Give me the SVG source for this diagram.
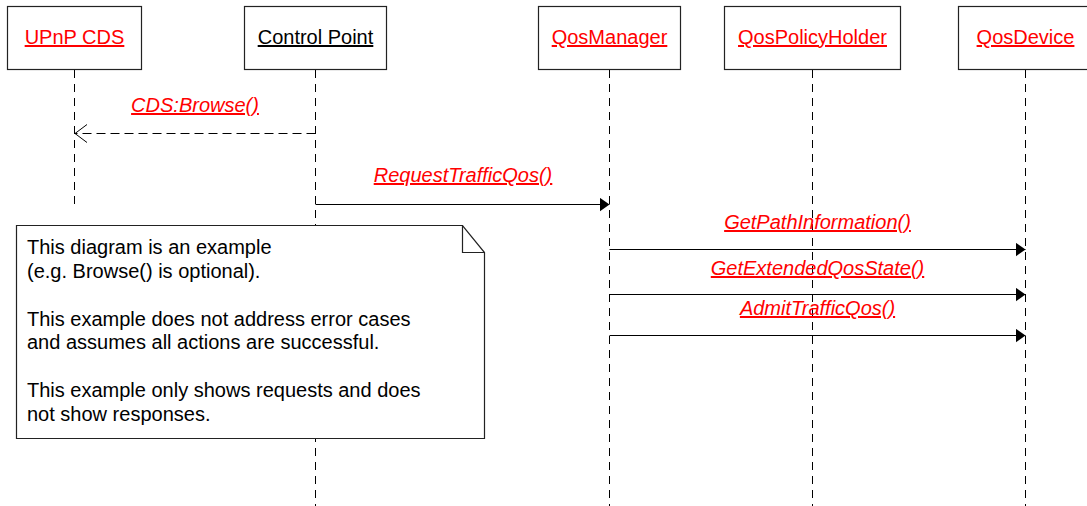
<svg xmlns="http://www.w3.org/2000/svg" width="1087" height="506" viewBox="0 0 1087 506">
<style>
text{font-family:"Liberation Sans",Arial,sans-serif;font-size:20px}
.box{fill:#fff;stroke:#222;stroke-width:1.2}
.lbl{fill:#ff0000;text-decoration:underline;text-anchor:middle}
.blk{fill:#000;text-decoration:underline;text-anchor:middle}
.msg{fill:#ff0000;font-style:italic;text-decoration:underline;text-anchor:middle}
.life{stroke:#000;stroke-width:1;stroke-dasharray:8 6;fill:none}
.sol{stroke:#000;stroke-width:1;fill:none}
.dsh{stroke:#000;stroke-width:1;stroke-dasharray:9 5;fill:none}
.note{fill:#000}
</style>
<defs>
<marker id="filled" markerWidth="12" markerHeight="14" refX="10" refY="7" orient="auto" markerUnits="userSpaceOnUse">
<path d="M0,0 L10,7 L0,14 Z" fill="#000"/>
</marker>
<marker id="open" markerWidth="14" markerHeight="20" refX="12.5" refY="10" orient="auto" markerUnits="userSpaceOnUse">
<path d="M0.5,1 L12.5,10 L0.5,19" fill="none" stroke="#000" stroke-width="1"/>
</marker>
</defs>
<g id="lifelines">
<line class="life" x1="74.5" y1="70" x2="74.5" y2="206"/>
<line class="life" x1="315.5" y1="70" x2="315.5" y2="506"/>
<line class="life" x1="609.5" y1="70" x2="609.5" y2="506"/>
<line class="life" x1="812.5" y1="70" x2="812.5" y2="506"/>
<line class="life" x1="1025.5" y1="70" x2="1025.5" y2="506"/>
</g>
<g id="node-upnp-cds">
<rect class="box" x="7.5" y="6.5" width="134" height="63"/>
<text class="lbl" x="74.5" y="44">UPnP CDS</text>
</g>
<g id="node-control-point">
<rect class="box" x="244.5" y="6.5" width="142" height="63"/>
<text class="blk" x="315.5" y="44">Control Point</text>
</g>
<g id="node-qosmanager">
<rect class="box" x="538.5" y="6.5" width="142" height="63"/>
<text class="lbl" x="609.5" y="44">QosManager</text>
</g>
<g id="node-qospolicyholder">
<rect class="box" x="724.5" y="6.5" width="176" height="63"/>
<text class="lbl" x="812.5" y="44">QosPolicyHolder</text>
</g>
<g id="node-qosdevice">
<rect class="box" x="958.5" y="6.5" width="134" height="63"/>
<text class="lbl" x="1025.5" y="44">QosDevice</text>
</g>
<g id="connectors">
<line class="dsh" x1="315.5" y1="133.5" x2="75" y2="133.5" marker-end="url(#open)"/>
<text class="msg" x="195" y="112">CDS:Browse()</text>
<line class="sol" x1="315.5" y1="204.5" x2="609.5" y2="204.5" marker-end="url(#filled)"/>
<text class="msg" x="463" y="182">RequestTrafficQos()</text>
<line class="sol" x1="609.5" y1="249.5" x2="1025.5" y2="249.5" marker-end="url(#filled)"/>
<text class="msg" x="817.5" y="229">GetPathInformation()</text>
<line class="sol" x1="609.5" y1="294.5" x2="1025.5" y2="294.5" marker-end="url(#filled)"/>
<text class="msg" x="817.5" y="275">GetExtendedQosState()</text>
<line class="sol" x1="609.5" y1="335.5" x2="1025.5" y2="335.5" marker-end="url(#filled)"/>
<text class="msg" x="817.5" y="315">AdmitTrafficQos()</text>
</g>
<g id="note">
<path class="box" d="M16.5,225.5 H462.5 L484.5,252.5 V438.5 H16.5 Z"/>
<path d="M462.5,225.5 V252.5 H484.5" fill="none" stroke="#222" stroke-width="1.2"/>
<text class="note" x="27" y="254">This diagram is an example</text>
<text class="note" x="27" y="277.5">(e.g. Browse() is optional).</text>
<text class="note" x="27" y="325.5">This example does not address error cases</text>
<text class="note" x="27" y="349">and assumes all actions are successful.</text>
<text class="note" x="27" y="397">This example only shows requests and does</text>
<text class="note" x="27" y="421">not show responses.</text>
</g>
</svg>
